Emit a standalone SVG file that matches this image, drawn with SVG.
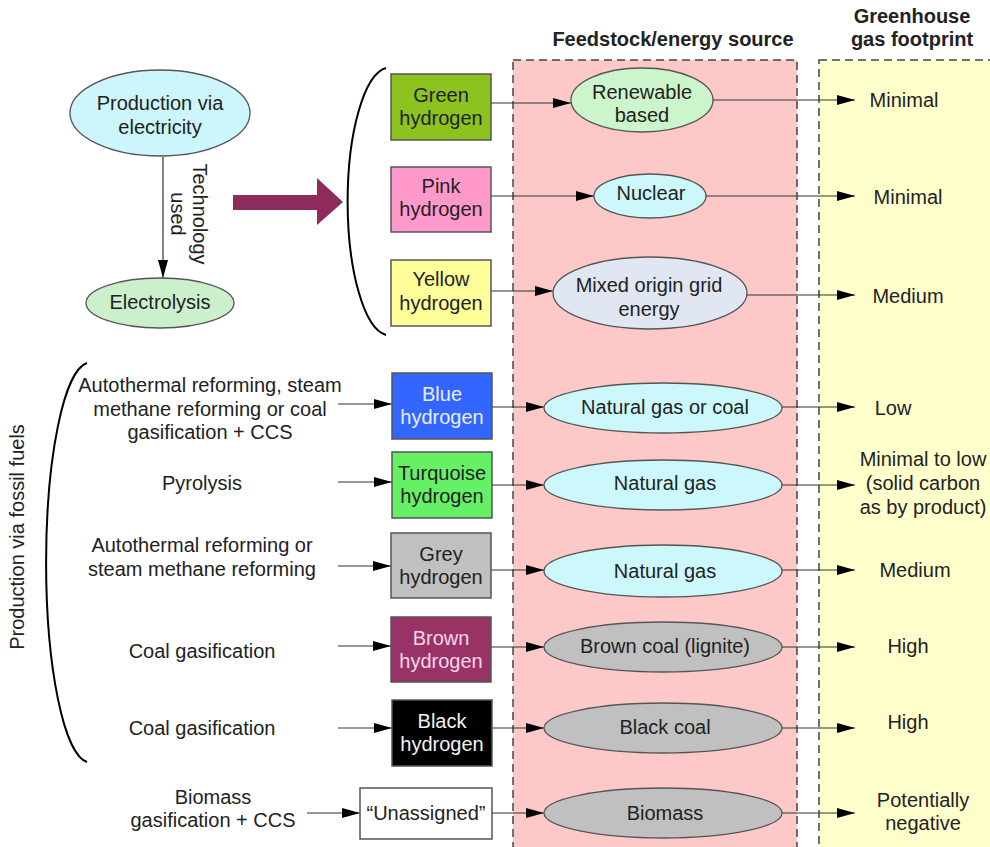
<svg xmlns="http://www.w3.org/2000/svg" width="990" height="847" viewBox="0 0 990 847">
<defs>
<style>
text{font-family:"Liberation Sans",Arial,sans-serif;font-size:20px;fill:#222;text-anchor:middle}
.hdr{font-weight:bold;font-size:20px}
.box{stroke:#555;stroke-width:1.5}
.ell{stroke:#555;stroke-width:1.3}
.con{stroke:#333;stroke-width:1.2;fill:none;marker-end:url(#ah)}
.band{stroke:#444;stroke-width:1.5;stroke-dasharray:8 5}
.lt{fill:#e8eeff}
.wt{fill:#f2f2f2}
.pk{fill:#f6d6ec}
</style>
<marker id="ah" markerUnits="userSpaceOnUse" markerWidth="18" markerHeight="10" refX="18" refY="5" orient="auto">
<path d="M0,0 L18,5 L0,10 z" fill="#000"/>
</marker>
</defs>

<g id="bands">
<rect class="band" x="513" y="60" width="284" height="800" fill="#fdc8c8"/>
<rect class="band" x="819" y="60" width="190" height="800" fill="#ffffcc"/>
</g>

<g id="headers">
<text class="hdr" x="673" y="46">Feedstock/energy source</text>
<text class="hdr" x="912" y="23">Greenhouse</text>
<text class="hdr" x="912" y="46">gas footprint</text>
</g>

<g id="braces" fill="none" stroke="#000" stroke-width="2">
<path d="M386,68 A42 134 0 0 0 386,335"/>
<path d="M87,363 A44 200 0 0 0 87,762"/>
</g>

<g id="big-arrow">
<polygon points="233,195 317,195 317,178 343,202 317,225 317,210 233,210" fill="#8e2b5d"/>
</g>

<g id="connectors">
<line class="con" x1="163" y1="157" x2="163" y2="278"/>
<line class="con" x1="491" y1="103" x2="571" y2="103"/>
<line class="con" x1="491" y1="196" x2="594" y2="196"/>
<line class="con" x1="491" y1="291" x2="553" y2="291"/>
<line class="con" x1="713" y1="100" x2="855" y2="100"/>
<line class="con" x1="705" y1="196" x2="855" y2="196"/>
<line class="con" x1="747" y1="295" x2="855" y2="295"/>
<line class="con" x1="338" y1="404" x2="392" y2="404"/>
<line class="con" x1="338" y1="482" x2="392" y2="482"/>
<line class="con" x1="338" y1="566" x2="391" y2="566"/>
<line class="con" x1="338" y1="646" x2="391" y2="646"/>
<line class="con" x1="338" y1="728" x2="392" y2="728"/>
<line class="con" x1="307" y1="813" x2="360" y2="813"/>
<line class="con" x1="492" y1="407" x2="544" y2="407"/>
<line class="con" x1="492" y1="485" x2="544" y2="485"/>
<line class="con" x1="491" y1="570" x2="544" y2="570"/>
<line class="con" x1="491" y1="647" x2="544" y2="647"/>
<line class="con" x1="492" y1="728" x2="544" y2="728"/>
<line class="con" x1="492" y1="813" x2="544" y2="813"/>
<line class="con" x1="782" y1="407" x2="855" y2="407"/>
<line class="con" x1="782" y1="485" x2="855" y2="485"/>
<line class="con" x1="782" y1="570" x2="855" y2="570"/>
<line class="con" x1="782" y1="647" x2="855" y2="647"/>
<line class="con" x1="782" y1="728" x2="855" y2="728"/>
<line class="con" x1="782" y1="813" x2="855" y2="813"/>
</g>

<g id="production-electricity">
<ellipse class="ell" cx="160" cy="113" rx="90" ry="43" fill="#ccf6fb"/>
<text x="160" y="110">Production via</text>
<text x="160" y="134">electricity</text>
</g>
<g id="technology-used">
<text transform="translate(193,214) rotate(90)">Technology</text>
<text transform="translate(171,214) rotate(90)">used</text>
</g>
<g id="electrolysis">
<ellipse class="ell" cx="160" cy="303" rx="74" ry="25" fill="#ccf0cc"/>
<text x="160" y="309">Electrolysis</text>
</g>

<g id="green-hydrogen">
<rect class="box" x="391" y="74" width="100" height="66" fill="#8cc31e"/>
<text x="441" y="102">Green</text>
<text x="441" y="125">hydrogen</text>
</g>
<g id="pink-hydrogen">
<rect class="box" x="391" y="167" width="100" height="65" fill="#ff99cc"/>
<text x="441" y="193">Pink</text>
<text x="441" y="216">hydrogen</text>
</g>
<g id="yellow-hydrogen">
<rect class="box" x="391" y="260" width="100" height="66" fill="#ffff99"/>
<text x="441" y="286">Yellow</text>
<text x="441" y="310">hydrogen</text>
</g>

<g id="renewable">
<ellipse class="ell" cx="642" cy="100" rx="71" ry="32" fill="#ccf5cc"/>
<text x="642" y="99">Renewable</text>
<text x="642" y="122">based</text>
</g>
<g id="nuclear">
<ellipse class="ell" cx="650" cy="196" rx="56" ry="22" fill="#ccf8fc"/>
<text x="651" y="200">Nuclear</text>
</g>
<g id="mixed">
<ellipse class="ell" cx="650" cy="293" rx="97" ry="36" fill="#e0e7f3"/>
<text x="649" y="292">Mixed origin grid</text>
<text x="649" y="316">energy</text>
</g>

<g id="ghg-top">
<text x="904" y="107">Minimal</text>
<text x="908" y="204">Minimal</text>
<text x="908" y="303">Medium</text>
</g>

<g id="fossil-label">
<text transform="translate(24,537) rotate(-90)">Production via fossil fuels</text>
</g>

<g id="process-labels">
<text x="210" y="392">Autothermal reforming, steam</text>
<text x="210" y="416">methane reforming or coal</text>
<text x="210" y="439">gasification + CCS</text>
<text x="202" y="490">Pyrolysis</text>
<text x="202" y="552">Autothermal reforming or</text>
<text x="202" y="576">steam methane reforming</text>
<text x="202" y="658">Coal gasification</text>
<text x="202" y="735">Coal gasification</text>
<text x="213" y="804">Biomass</text>
<text x="213" y="827">gasification + CCS</text>
</g>

<g id="blue-hydrogen">
<rect class="box" x="392" y="373" width="100" height="66" fill="#3366ff"/>
<text class="lt" x="442" y="401">Blue</text>
<text class="lt" x="442" y="424">hydrogen</text>
</g>
<g id="turquoise-hydrogen">
<rect class="box" x="392" y="452" width="100" height="66" fill="#66f066"/>
<text x="442" y="480">Turquoise</text>
<text x="442" y="503">hydrogen</text>
</g>
<g id="grey-hydrogen">
<rect class="box" x="391" y="533" width="100" height="65" fill="#c0c0c0"/>
<text x="441" y="561">Grey</text>
<text x="441" y="584">hydrogen</text>
</g>
<g id="brown-hydrogen">
<rect class="box" x="391" y="617" width="100" height="65" fill="#993366"/>
<text class="pk" x="441" y="645">Brown</text>
<text class="pk" x="441" y="668">hydrogen</text>
</g>
<g id="black-hydrogen">
<rect class="box" x="392" y="700" width="100" height="66" fill="#000"/>
<text class="wt" x="442" y="728">Black</text>
<text class="wt" x="442" y="751">hydrogen</text>
</g>
<g id="unassigned">
<rect class="box" x="360" y="788" width="132" height="51" fill="#fff"/>
<text x="426" y="820">“Unassigned”</text>
</g>

<g id="natural-gas-or-coal">
<ellipse class="ell" cx="663" cy="408" rx="119" ry="25" fill="#ccf8fc"/>
<text x="665" y="414">Natural gas or coal</text>
</g>
<g id="natural-gas-1">
<ellipse class="ell" cx="663" cy="485" rx="119" ry="25" fill="#ccf8fc"/>
<text x="665" y="490">Natural gas</text>
</g>
<g id="natural-gas-2">
<ellipse class="ell" cx="663" cy="571" rx="119" ry="26" fill="#ccf8fc"/>
<text x="665" y="578">Natural gas</text>
</g>
<g id="brown-coal">
<ellipse class="ell" cx="663" cy="647" rx="119" ry="25" fill="#c0c0c0"/>
<text x="665" y="653">Brown coal (lignite)</text>
</g>
<g id="black-coal">
<ellipse class="ell" cx="663" cy="728" rx="119" ry="25" fill="#c0c0c0"/>
<text x="665" y="734">Black coal</text>
</g>
<g id="biomass">
<ellipse class="ell" cx="663" cy="813" rx="119" ry="25" fill="#c0c0c0"/>
<text x="665" y="820">Biomass</text>
</g>

<g id="ghg-bottom">
<text x="893" y="415">Low</text>
<text x="923" y="466">Minimal to low</text>
<text x="923" y="490">(solid carbon</text>
<text x="923" y="514">as by product)</text>
<text x="915" y="577">Medium</text>
<text x="908" y="653">High</text>
<text x="908" y="729">High</text>
<text x="923" y="807">Potentially</text>
<text x="923" y="830">negative</text>
</g>
</svg>
